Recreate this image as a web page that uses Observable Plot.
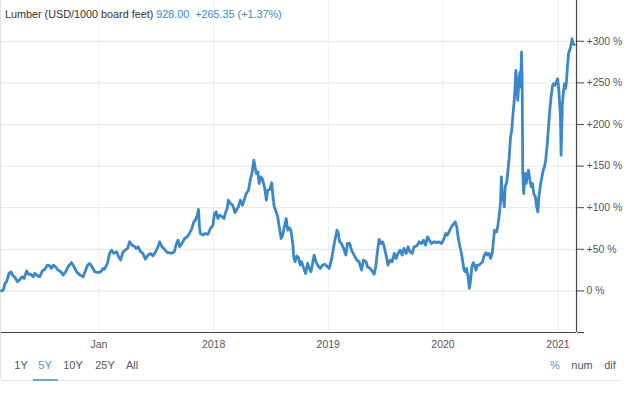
<!DOCTYPE html>
<html>
<head>
<meta charset="utf-8">
<script src="https://cdn.jsdelivr.net/npm/d3@7"></script>
<script src="https://cdn.jsdelivr.net/npm/@observablehq/plot@0.6"></script>
<style>
  html, body { margin: 0; padding: 0; background: #fff; }
  body { font-family: "Liberation Sans", Arial, sans-serif; width: 624px; height: 399px; position: relative; overflow: hidden; }
  #frame { position: absolute; left: 0; top: 0; width: 620px; height: 380px; border-left: 1px solid #e2e2e2; border-bottom: 1px solid #e2e2e2; border-bottom-left-radius: 4px; }
  #chart { position: absolute; left: 0; top: 0; }
  #title { position: absolute; left: 5px; top: 7px; font-size: 10.8px; line-height: 14px; color: #333; white-space: pre; }
  #title .v { color: #3a87c9; }
  .btn { position: absolute; top: 358px; font-size: 11px; line-height: 14px; color: #555; transform: translateX(-50%); white-space: pre; }
  .btn.on { color: #4a93d2; }
  #uline { position: absolute; left: 33px; top: 379px; width: 25px; height: 2px; background: #6fa6d8; }
</style>
</head>
<body>
<div id="frame"></div>
<div id="chart"></div>
<div id="title"></div>
<div id="toolbar"></div>
<div id="uline"></div>
<script>
// ---- data ----
const titleText = "Lumber (USD/1000 board feet)";
const lastPrice = "928.00";
const changeText = "+265.35 (+1.37%)";

const rangeButtons = ["1Y", "5Y", "10Y", "25Y", "All"];
const activeRange = "5Y";
const modeButtons = ["%", "num", "dif"];
const activeMode = "%";

const xDomain = ["2016-02-26", "2021-03-01"];
const xTickDates = ["2017-01-01", "2018-01-01", "2019-01-01", "2020-01-01", "2021-01-01"];
const xTickLabels = ["Jan", "2018", "2019", "2020", "2021"];

const yDomain = [-50, 349];
const yTicks = [-50, 0, 50, 100, 150, 200, 250, 300];

const dates = [
"2016-02-26","2016-03-03","2016-03-08","2016-03-13","2016-03-21","2016-03-27","2016-04-01","2016-04-09","2016-04-17","2016-04-25",
"2016-05-02","2016-05-08","2016-05-16","2016-05-21","2016-05-29","2016-06-06","2016-06-11","2016-06-20","2016-06-27","2016-07-05",
"2016-07-13","2016-07-21","2016-07-29","2016-08-03","2016-08-09","2016-08-16","2016-08-24","2016-09-02","2016-09-09","2016-09-17",
"2016-09-25","2016-10-06","2016-10-14","2016-10-22","2016-11-01","2016-11-12","2016-11-17","2016-11-26","2016-12-03","2016-12-10",
"2016-12-19","2016-12-30","2017-01-07","2017-01-14","2017-01-19","2017-01-28","2017-02-04","2017-02-10","2017-02-18","2017-02-26",
"2017-03-05","2017-03-11","2017-03-19","2017-03-26","2017-04-02","2017-04-09","2017-04-16","2017-04-23","2017-04-30","2017-05-06",
"2017-05-14","2017-05-21","2017-05-29","2017-06-06","2017-06-15","2017-06-22","2017-06-29","2017-07-08","2017-07-13","2017-07-21",
"2017-07-29","2017-08-07","2017-08-14","2017-08-19","2017-08-29","2017-09-04","2017-09-10","2017-09-15","2017-09-22","2017-10-01",
"2017-10-09","2017-10-16","2017-10-24","2017-10-30","2017-11-04","2017-11-10","2017-11-14","2017-11-17","2017-11-20","2017-11-28",
"2017-12-05","2017-12-14","2017-12-22","2017-12-30","2018-01-04","2018-01-09","2018-01-15","2018-01-20","2018-01-25","2018-02-03",
"2018-02-07","2018-02-13","2018-02-17","2018-02-24","2018-03-03","2018-03-10","2018-03-17","2018-03-21","2018-03-27","2018-04-03",
"2018-04-09","2018-04-15","2018-04-22","2018-04-28","2018-05-03","2018-05-09","2018-05-13","2018-05-17","2018-05-22","2018-05-26",
"2018-05-30","2018-06-05","2018-06-12","2018-06-18","2018-06-22","2018-06-29","2018-07-05","2018-07-09","2018-07-13","2018-07-19",
"2018-07-24","2018-07-29","2018-08-04","2018-08-09","2018-08-14","2018-08-20","2018-08-25","2018-08-30","2018-09-04","2018-09-10",
"2018-09-13","2018-09-17","2018-09-23","2018-09-28","2018-10-04","2018-10-08","2018-10-15","2018-10-21","2018-10-27","2018-11-02",
"2018-11-07","2018-11-12","2018-11-17","2018-11-23","2018-11-28","2018-12-06","2018-12-14","2018-12-21","2018-12-30","2019-01-04",
"2019-01-12","2019-01-20","2019-01-29","2019-02-02","2019-02-06","2019-02-12","2019-02-19","2019-02-26","2019-03-03","2019-03-10",
"2019-03-16","2019-03-24","2019-04-02","2019-04-09","2019-04-17","2019-04-23","2019-05-01","2019-05-06","2019-05-14","2019-05-22",
"2019-05-27","2019-06-01","2019-06-07","2019-06-12","2019-06-17","2019-06-23","2019-06-28","2019-07-04","2019-07-10","2019-07-17",
"2019-07-23","2019-07-30","2019-08-05","2019-08-11","2019-08-18","2019-08-24","2019-08-30","2019-09-06","2019-09-12","2019-09-18",
"2019-09-25","2019-10-01","2019-10-10","2019-10-17","2019-10-25","2019-10-31","2019-11-07","2019-11-13","2019-11-19","2019-11-25",
"2019-12-04","2019-12-12","2019-12-19","2019-12-27","2020-01-02","2020-01-10","2020-01-15","2020-01-20","2020-01-28","2020-02-03",
"2020-02-09","2020-02-14","2020-02-18","2020-02-24","2020-02-29","2020-03-04","2020-03-08","2020-03-12","2020-03-16","2020-03-21",
"2020-03-25","2020-03-29","2020-04-02","2020-04-07","2020-04-11","2020-04-15","2020-04-19","2020-04-25","2020-04-30","2020-05-06",
"2020-05-10","2020-05-16","2020-05-21","2020-05-26","2020-06-01","2020-06-06","2020-06-09","2020-06-13","2020-06-20","2020-06-24",
"2020-06-28","2020-07-02","2020-07-05","2020-07-08","2020-07-11","2020-07-14","2020-07-17","2020-07-22","2020-07-26","2020-07-30",
"2020-08-03","2020-08-07","2020-08-11","2020-08-14","2020-08-17","2020-08-20","2020-08-23","2020-08-26","2020-08-30","2020-09-02",
"2020-09-04","2020-09-07","2020-09-09","2020-09-11","2020-09-14","2020-09-16","2020-09-19","2020-09-22","2020-09-25","2020-09-29",
"2020-10-04","2020-10-08","2020-10-12","2020-10-16","2020-10-21","2020-10-25","2020-10-29","2020-11-01","2020-11-04","2020-11-07",
"2020-11-11","2020-11-15","2020-11-19","2020-11-23","2020-11-28","2020-12-02","2020-12-06","2020-12-10","2020-12-15","2020-12-19",
"2020-12-23","2020-12-27","2020-12-31","2021-01-04","2021-01-07","2021-01-09","2021-01-11","2021-01-13","2021-01-15","2021-01-19",
"2021-01-22","2021-01-25","2021-01-28","2021-01-31","2021-02-04","2021-02-08","2021-02-12","2021-02-15","2021-02-18","2021-02-22"
];

const values = [
0,1,9,11,21,23,19,16,11,14,
17,15,24,20,20,17,21,18,17,24,
26,31,30,27,31,29,25,23,19,23,
29,34,29,23,19,17,22,31,33,29,
23,22,23,27,26,33,45,49,45,47,
41,37,47,49,51,59,55,54,51,53,
47,45,38,43,45,42,46,53,59,53,
50,46,46,45,47,56,61,53,57,63,
65,69,75,83,85,91,98,77,69,67,
69,68,75,79,93,95,87,91,90,87,
93,99,109,105,103,94,99,101,109,103,
110,117,121,134,141,157,149,141,143,129,
137,135,125,109,121,122,130,113,101,95,
89,77,63,67,77,87,73,76,73,57,
41,35,42,40,31,35,27,21,33,27,
23,33,43,35,31,27,31,32,29,27,
39,57,73,69,59,57,51,43,57,57,
49,43,37,35,25,37,35,29,27,23,
20,29,49,62,57,59,53,43,31,37,
35,45,39,45,49,43,51,45,53,47,
45,53,54,59,57,61,55,65,61,57,
59,58,59,57,61,69,67,71,77,80,
83,77,65,53,45,35,25,23,27,17,
3,13,29,34,31,25,31,31,33,35,
41,46,43,45,39,46,57,73,71,79,
91,105,137,109,117,101,125,131,145,161,
185,193,213,225,241,265,249,229,253,263,
245,287,253,141,117,129,141,129,137,145,
133,125,129,117,113,101,95,113,121,129,
137,145,149,157,177,197,217,233,247,249,
247,251,255,241,221,209,163,193,225,241,
249,243,251,269,286,290,296,303,297,296
];

// ---- build ----
const lineColor = "#3a87c9";
const data = dates.map((d, i) => ({ date: new Date(d), pct: values[i] }));
const xStart = new Date(xDomain[0]);
const xEnd = new Date(xDomain[1]);
const yearTicks = xTickDates.map(d => new Date(d));
const labelFor = d => xTickLabels[yearTicks.findIndex(t => +t === +d)];
const fmtPct = v => v < 0 ? "" : (v > 0 ? "+" : "") + v + " %";

const chart = Plot.plot({
  width: 624,
  height: 352,
  marginLeft: 1,
  marginRight: 48,
  marginTop: 0,
  marginBottom: 20,
  style: { fontFamily: '"Liberation Sans", Arial, sans-serif', fontSize: "10.5px", background: "transparent", color: "#555", overflow: "visible" },
  x: { type: "utc", domain: [xStart, xEnd], label: null },
  y: { domain: yDomain, label: null },
  marks: [
    Plot.gridX(yearTicks, { stroke: "#ececec", strokeOpacity: 1 }),
    Plot.gridY(yTicks.filter(v => v >= 0), { stroke: "#e6e6e6", strokeOpacity: 1 }),
    Plot.lineY(data, { x: "date", y: "pct", stroke: lineColor, strokeWidth: 2.8, strokeLinejoin: "round", strokeLinecap: "round" }),
    Plot.ruleY([yDomain[0]], { stroke: "#444", strokeWidth: 1.2 }),
    Plot.ruleX([xEnd], { stroke: "#444", strokeWidth: 1.2 }),
    Plot.axisY(yTicks, { anchor: "right", label: null, tickSize: 7, tickPadding: 3, tickFormat: fmtPct, stroke: "#444", fill: "#555" }),
    Plot.axisX(yearTicks, { anchor: "bottom", label: null, tickSize: 0, tickPadding: 8, tickFormat: labelFor, fill: "#555" })
  ]
});
document.getElementById("chart").appendChild(chart);

// title
const t = document.getElementById("title");
t.innerHTML = "";
t.appendChild(document.createTextNode(titleText + " "));
const sp = document.createElement("span");
sp.className = "v";
sp.textContent = lastPrice + "  " + changeText;
t.appendChild(sp);

// toolbar
const tb = document.getElementById("toolbar");
const rangeCenters = [21, 45, 73, 105, 132];
rangeButtons.forEach((b, i) => {
  const s = document.createElement("span");
  s.className = "btn" + (b === activeRange ? " on" : "");
  s.style.left = rangeCenters[i] + "px";
  s.textContent = b;
  tb.appendChild(s);
});
const modeCenters = [555, 582, 610];
modeButtons.forEach((b, i) => {
  const s = document.createElement("span");
  s.className = "btn" + (b === activeMode ? " on" : "");
  s.style.left = modeCenters[i] + "px";
  s.textContent = b;
  tb.appendChild(s);
});
</script>
</body>
</html>
